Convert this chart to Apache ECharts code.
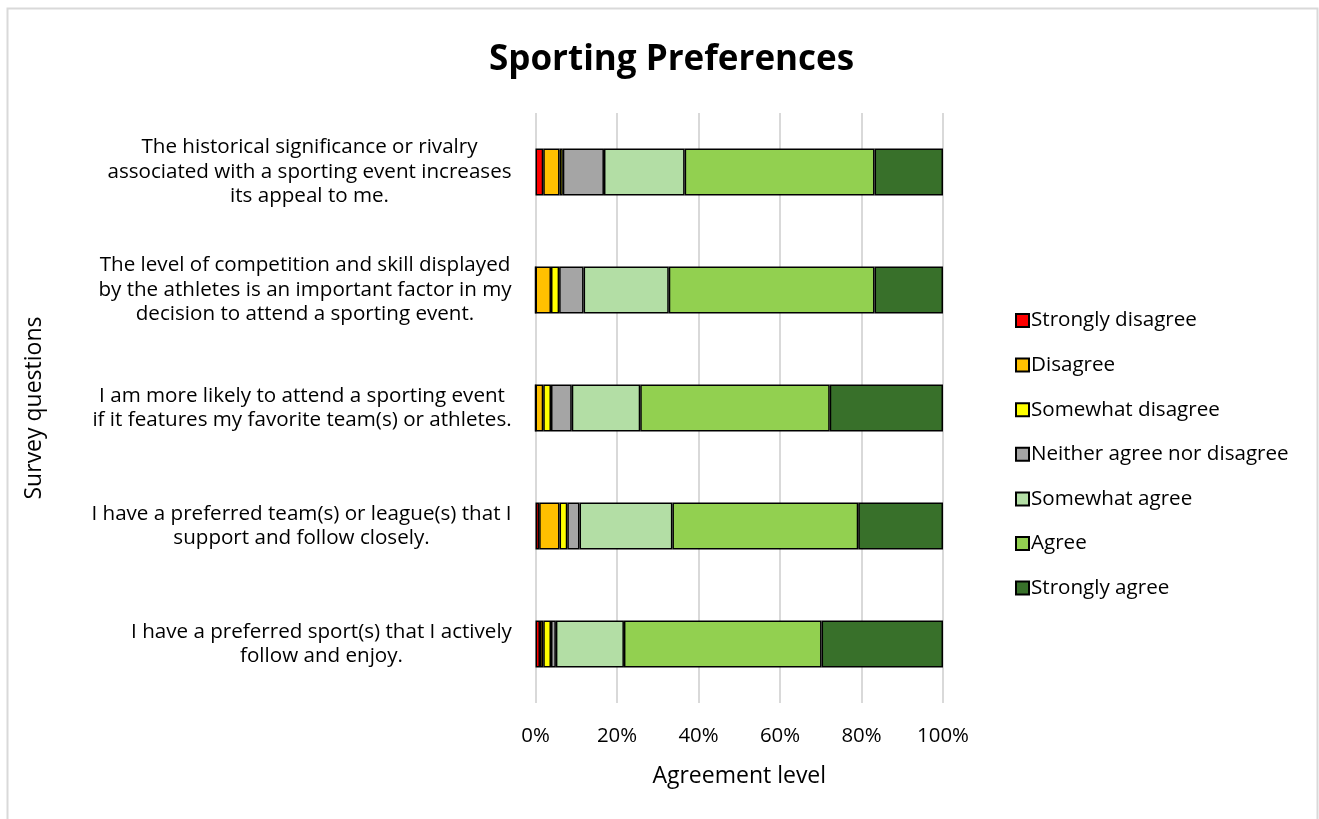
<!DOCTYPE html>
<html>
<head>
<meta charset="utf-8">
<script src="https://cdn.jsdelivr.net/npm/echarts@6/dist/echarts.min.js"></script>
<style>
  html, body { margin: 0; padding: 0; background: #fff; }
  #chart { width: 1319px; height: 819px; }
</style>
</head>
<body>
<div id="chart"></div>
<script>
// Survey questions, listed top to bottom
const questions = [
  'The historical significance or rivalry\nassociated with a sporting event increases\nits appeal to me.',
  'The level of competition and skill displayed\nby the athletes is an important factor in my\ndecision to attend a sporting event.',
  'I am more likely to attend a sporting event\nif it features my favorite team(s) or athletes.',
  'I have a preferred team(s) or league(s) that I\nsupport and follow closely.',
  'I have a preferred sport(s) that I actively\nfollow and enjoy.'
];

// Response levels and their colours
const levels = ['Strongly disagree', 'Disagree', 'Somewhat disagree', 'Neither agree nor disagree', 'Somewhat agree', 'Agree', 'Strongly agree'];
const levelColors = ['#FF0000', '#FFC000', '#FFFF00', '#A5A5A5', '#B3DEA5', '#92D050', '#38702A'];

// Share of respondents (%) per level, one value per question (same order as questions)
const stronglyDisagree = [1.9, 0, 0, 0.9, 1.1];
const disagree = [4.0, 3.8, 1.9, 5.0, 0.8];
const somewhatDisagree = [0.8, 2.0, 1.9, 1.9, 1.9];
const neutral = [10.1, 6.0, 5.1, 3.0, 1.2];
const somewhatAgree = [19.8, 20.9, 16.8, 22.8, 16.7];
const agree = [46.6, 50.5, 46.5, 45.6, 48.5];
const stronglyAgree = [16.8, 16.8, 27.8, 20.8, 29.8];

// Axis tick values
const xTicks = [0, 20, 40, 60, 80, 100];

const seriesValues = [stronglyDisagree, disagree, somewhatDisagree, neutral, somewhatAgree, agree, stronglyAgree];

const fontName = 'Open Sans';
const font = '"Open Sans", "Noto Sans", sans-serif';
const labelSize = 20.6;

// Each question label is a centred block of lines, right-aligned against the plot.
// Every line gets the width of its block's widest line so it can be centred inside it.
const measureCtx = document.createElement('canvas').getContext('2d');
measureCtx.font = labelSize + 'px "' + fontName + '"';
const labelRich = {};
questions.forEach((q, i) => {
  const w = Math.max(...q.split('\n').map(l => measureCtx.measureText(l).width));
  labelRich['q' + i] = {
    width: Math.ceil(w) + 1,
    align: 'center',
    fontFamily: font,
    fontSize: labelSize,
    lineHeight: 24.5,
    color: '#000'
  };
});

const chart = echarts.init(document.getElementById('chart'), null, { renderer: 'canvas' });

chart.setOption({
  backgroundColor: '#fff',
  animation: false,
  textStyle: { fontFamily: font, color: '#000' },
  graphic: [{
    type: 'rect',
    shape: { x: 7.5, y: 8.5, width: 1310, height: 830 },
    style: { fill: 'none', stroke: '#d9d9d9', lineWidth: 2 },
    silent: true,
    z: -10
  }],
  title: {
    text: 'Sporting Preferences',
    left: 484,
    top: 38,
    textStyle: { fontFamily: font, fontWeight: 'bold', fontSize: 35, color: '#000' }
  },
  legend: {
    orient: 'vertical',
    left: 1010,
    top: 305,
    itemWidth: 13,
    itemHeight: 13,
    itemGap: 23.6,
    icon: 'rect',
    data: levels,
    textStyle: { fontFamily: font, fontSize: 20.6, color: '#000', padding: [0, 0, 0, -3], lineHeight: 20 }
  },
  grid: { left: 535.5, right: 376, top: 113, bottom: 116, containLabel: false },
  xAxis: {
    type: 'value',
    min: 0,
    max: 100,
    interval: 20,
    name: 'Agreement level',
    nameLocation: 'middle',
    nameGap: 62,
    nameTextStyle: { fontFamily: font, fontSize: 23, color: '#000' },
    axisLine: { show: false },
    axisTick: { show: false },
    axisLabel: {
      margin: 23,
      fontFamily: font, fontSize: 20.4, color: '#000',
      formatter: v => xTicks.includes(v) ? v + '%' : ''
    },
    splitLine: { show: true, lineStyle: { color: '#d9d9d9', width: 2 } }
  },
  yAxis: {
    type: 'category',
    inverse: true,
    data: questions,
    name: 'Survey questions',
    nameLocation: 'middle',
    nameGap: 490,
    nameRotate: 90,
    nameTextStyle: { fontFamily: font, fontSize: 23, color: '#000' },
    axisLine: { show: false },
    axisTick: { show: false },
    axisLabel: {
      margin: 23,
      align: 'right',
      fontFamily: font, fontSize: labelSize, lineHeight: 24.5, color: '#000',
      formatter: (value, index) => value.split('\n').map(l => '{q' + index + '|' + l + '}').join('\n'),
      rich: labelRich
    }
  },
  series: levels.map((name, i) => ({
    name,
    type: 'bar',
    stack: 'total',
    barWidth: 47,
    data: seriesValues[i],
    itemStyle: { color: levelColors[i], borderColor: '#000', borderWidth: 1.5 },
    emphasis: { disabled: true }
  }))
});
</script>
</body>
</html>
